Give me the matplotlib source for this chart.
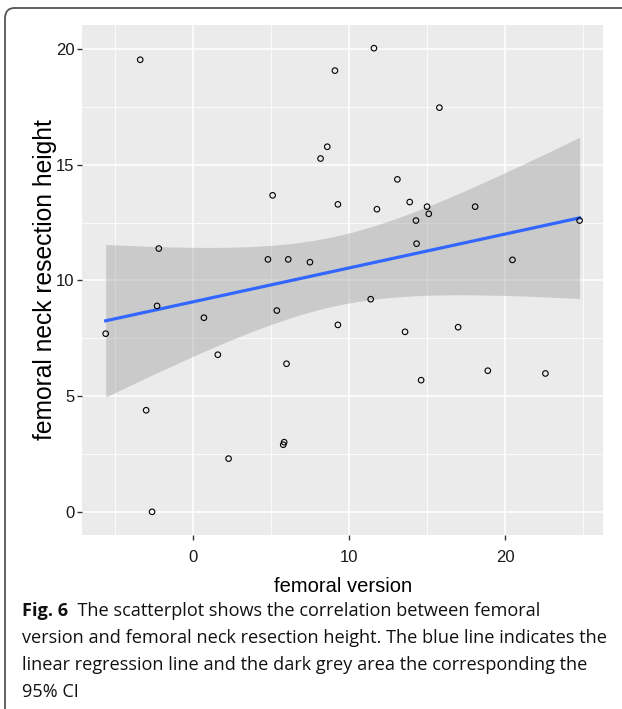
import numpy as np
import matplotlib
matplotlib.use("Agg")
import matplotlib.pyplot as plt
from matplotlib.patches import FancyBboxPatch

# femoral version (x) vs femoral neck resection height (y)
version = [-3.37, -2.18, 5.11, 4.81, 6.11, 7.50,
           11.60, 9.10, 15.79, 8.61, 8.18, 13.10, 9.29, 11.79, 13.89, 15.00,
           15.11, 14.29, 18.08, 24.77, 14.33, 20.47,
           -5.58, -2.29, 0.71, 5.38, 1.60, 6.00, -2.99, 5.85, 5.79, 2.29, -2.61,
           11.39, 9.29, 13.59, 16.99, 14.62, 18.89, 22.58]
height = [19.54, 11.38, 13.68, 10.91, 10.91, 10.79,
          20.04, 19.07, 17.47, 15.78, 15.27, 14.37, 13.29, 13.08, 13.39, 13.19,
          12.88, 12.59, 13.19, 12.59, 11.59, 10.89,
          7.70, 8.90, 8.39, 8.70, 6.79, 6.40, 4.39, 3.01, 2.90, 2.30, 0.00,
          9.19, 8.08, 7.78, 7.98, 5.69, 6.10, 5.98]

x_ticks = [0, 10, 20]
y_ticks = [0, 5, 10, 15, 20]
caption_bold = "Fig. 6"
caption_lines = [
    "  The scatterplot shows the correlation between femoral",
    "version and femoral neck resection height. The blue line indicates the",
    "linear regression line and the dark grey area the corresponding the",
    "95% CI",
]

x = np.array(version)
y = np.array(height)

# linear fit with 95% confidence band (like geom_smooth(method="lm"))
n = len(x)
slope, intercept = np.polyfit(x, y, 1)
resid = y - (slope * x + intercept)
s = np.sqrt(np.sum(resid ** 2) / (n - 2))
sxx = np.sum((x - x.mean()) ** 2)
t_crit = 2.024
xs = np.linspace(x.min(), x.max(), 200)
fit = slope * xs + intercept
se = s * np.sqrt(1 / n + (xs - x.mean()) ** 2 / sxx)

fig = plt.figure(figsize=(6.22, 7.09), dpi=100)
ax = fig.add_axes([82 / 622, 1 - 535 / 709, (603.3 - 82) / 622, (535 - 25) / 709])

ax.set_facecolor("#EBEBEB")
for sp in ax.spines.values():
    sp.set_visible(False)

xr = x.max() - x.min()
yr = y.max() - y.min()
ax.set_xlim(x.min() - 0.05 * xr, x.max() + 0.05 * xr)
ax.set_ylim(y.min() - 0.05 * yr, y.max() + 0.05 * yr)

ax.set_xticks(x_ticks)
ax.set_yticks(y_ticks)
ax.set_xticks([-5, 5, 15, 25], minor=True)
ax.set_yticks([2.5, 7.5, 12.5, 17.5], minor=True)
ax.grid(which="major", color="white", linewidth=1.1, zorder=0)
ax.grid(which="minor", color="white", linewidth=0.55, zorder=0)
ax.set_axisbelow(True)
ax.tick_params(which="major", length=3.5, width=1, color="#333333", pad=2,
               labelsize=12, labelcolor="#1a1a1a")
ax.tick_params(axis="x", which="major", pad=7)
ax.tick_params(which="minor", length=0)
for lab in ax.get_xticklabels() + ax.get_yticklabels():
    lab.set_fontfamily("Liberation Sans")

ax.fill_between(xs, fit - t_crit * se, fit + t_crit * se, color="#999999",
                alpha=0.4, linewidth=0, zorder=2)
ax.plot(xs, fit, color="#3366FF", linewidth=2.3, zorder=3)
ax.scatter(x, y, s=16, facecolors="none", edgecolors="black", linewidths=0.8, zorder=4)

ax.set_xlabel("femoral version", fontsize=14.5, family="Liberation Sans",
              color="black", labelpad=9)
ax.set_ylabel("femoral neck resection height", fontsize=17.7, family="Liberation Sans",
              color="black", labelpad=-1)

# rounded frame around the figure (cut off right and bottom)
frame = FancyBboxPatch((5 / 622, -0.1), 1.2, 1 - 8 / 709 + 0.1,
                       boxstyle="round,pad=0,rounding_size=0.015",
                       transform=fig.transFigure, facecolor="none",
                       edgecolor="#555555", linewidth=1.3, clip_on=False)
fig.patches.append(frame)

cap_y = [1 - 611 / 709, 1 - 638 / 709, 1 - 665 / 709, 1 - 692 / 709]
cap_size = 13.1
t0 = fig.text(22 / 622, cap_y[0], caption_bold, fontsize=cap_size, family="Open Sans",
              weight="bold", va="center", color="#111111")
fig.canvas.draw()
bb = t0.get_window_extent()
fig.text(bb.x1 / fig.bbox.width, cap_y[0], caption_lines[0], fontsize=cap_size,
         family="Open Sans", va="center", color="#111111")
for yy, line in zip(cap_y[1:], caption_lines[1:]):
    fig.text(22 / 622, yy, line, fontsize=cap_size, family="Open Sans", va="center",
             color="#111111")

fig.savefig("out.png", dpi=100)
